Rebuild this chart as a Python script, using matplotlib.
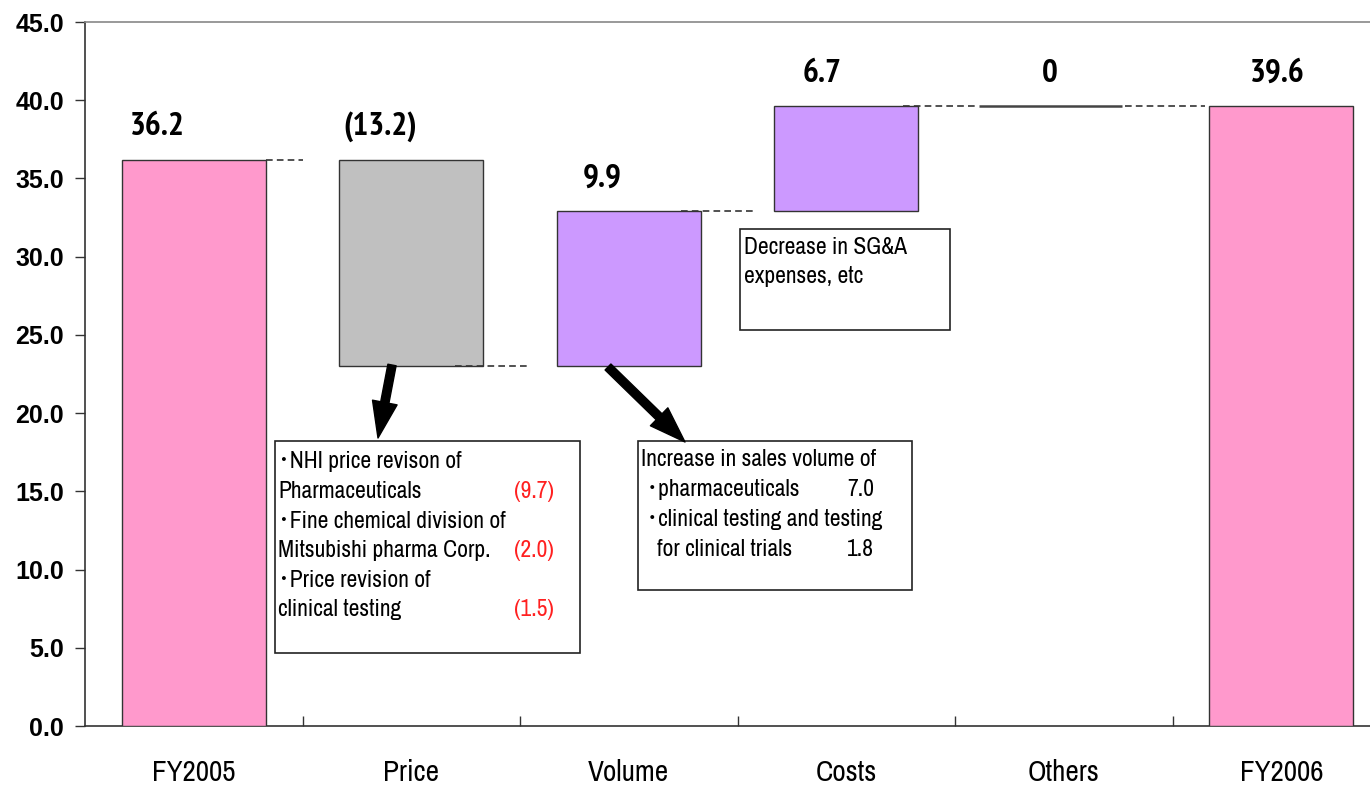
import matplotlib
matplotlib.use("Agg")
from matplotlib import pyplot as plt
from matplotlib import font_manager as fm
from matplotlib.ticker import FixedLocator
import numpy as np

# data
categories = ['FY2005', 'Price', 'Volume', 'Costs', 'Others', 'FY2006']
start_value = 36.2
changes = [-13.2, 9.9, 6.7, 0.0]
end_value = 39.6
y_ticks = [0, 5, 10, 15, 20, 25, 30, 35, 40, 45]

price_lines = ['\uff65NHI price revison of', 'Pharmaceuticals',
               '\uff65Fine chemical division of', 'Mitsubishi pharma Corp.',
               '\uff65Price revision of', 'clinical testing']
price_values = ['', '(9.7)', '', '(2.0)', '', '(1.5)']
volume_lines = ['Increase in sales volume of', ' \uff65pharmaceuticals',
                ' \uff65clinical testing and testing', '   for clinical trials']
volume_values = ['', '7.0', '', '1.8']
costs_lines = ['Decrease in SG&A', 'expenses, etc']

PINK, GRAY, PURPLE = '#FF99CC', '#C0C0C0', '#CC99FF'
EDGE = '#333333'
CANDIDATES = ['Liberation Sans Narrow', 'Arial Narrow', 'Archivo Narrow',
              'PT Sans Narrow', 'Roboto Condensed', 'Fira Sans Condensed',
              'IBM Plex Sans Condensed', 'Encode Sans Condensed']


def _is_bold(w):
    if isinstance(w, str):
        return w in ('bold', 'heavy', 'extra bold', 'black', 'demibold', 'semibold')
    return w >= 600


def pick_font(candidates, default, bold=False):
    entries = fm.fontManager.ttflist
    for name in candidates:
        faces = [f for f in entries if f.name == name]
        if not faces:
            continue
        if bold and not any(_is_bold(f.weight) for f in faces):
            continue
        return name
    return default


narrow = pick_font(CANDIDATES, 'Liberation Sans')
narrow_bold = pick_font(CANDIDATES, 'Liberation Sans', bold=True)
NARROW = [narrow, 'Liberation Sans', 'Noto Sans CJK JP']


def fmt(v):
    if v < 0:
        return '({:.1f})'.format(-v)
    if v == 0:
        return '0'
    return '{:.1f}'.format(v)


fig = plt.figure(figsize=(13.7, 7.88), dpi=100)
ax = fig.add_axes([85 / 1370, 62 / 788, 1305 / 1370, 704 / 788])

# waterfall geometry
levels = np.concatenate([[start_value], start_value + np.cumsum(changes)])
bottoms = [0]
heights = [start_value]
colors = [PINK]
for i, c in enumerate(changes):
    bottoms.append(min(levels[i], levels[i + 1]))
    heights.append(abs(c))
    colors.append(GRAY if c < 0 else PURPLE)
bottoms.append(0)
heights.append(end_value)
colors.append(PINK)

x = np.arange(len(categories))
width = 0.66
for xi, b, h, col in zip(x, bottoms, heights, colors):
    if h == 0:
        ax.hlines(b, xi - width / 2 - 0.06, xi + width / 2 - 0.06,
                  color='#444444', lw=1.8, zorder=3)
    else:
        ax.bar(xi, h, bottom=b, width=width, color=col, edgecolor=EDGE,
               linewidth=1.0, zorder=3)

# dashed connectors
dash_from = [0.33, 1.2, 2.24, 3.26, 4.28]
dash_to = [0.5, 1.54, 2.57, 3.6, 4.65]
for i in range(len(levels)):
    ax.plot([dash_from[i], dash_to[i]], [levels[i], levels[i]],
            color='#333333', lw=1.2, ls=(0, (4, 2.5)), zorder=4)

# value labels
label_vals = [start_value] + changes + [end_value]
tops = [start_value] + [max(levels[i], levels[i + 1]) for i in range(len(changes))] + [end_value]
label_dx = [-0.166, -0.143, -0.124, -0.11, -0.064, -0.018]
for xi, v, t, dx in zip(x, label_vals, tops, label_dx):
    ax.text(xi + dx, t + 2.1, fmt(v), ha='center', va='center',
            fontsize=24, fontweight='bold', family=[narrow_bold, 'Liberation Sans'])


# annotation boxes (pixel layout of the reference -> data coords)
def px(p):
    return (p - 85) / 217.5 - 0.5


def py(p):
    return (726 - p) / (704 / 45)


def draw_box(x0, y0, x1, y1):
    ax.add_patch(plt.Rectangle((px(x0), py(y1)), px(x1) - px(x0), py(y0) - py(y1),
                               fill=True, facecolor='white', edgecolor='#222222',
                               lw=1.2, zorder=5))


draw_box(275, 441, 580, 653)
for k, (line, v) in enumerate(zip(price_lines, price_values)):
    yk = py(462 + 29.6 * k)
    ax.text(px(278), yk, line, ha='left', va='center',
            fontsize=17, family=NARROW, zorder=6)
    if v:
        ax.text(px(554), yk, v, ha='right', va='center',
                fontsize=17, family=NARROW, color='#FF2020', zorder=6)

draw_box(638, 441, 912, 590)
for k, (line, v) in enumerate(zip(volume_lines, volume_values)):
    yk = py(459 + 30 * k)
    ax.text(px(641), yk, line, ha='left', va='center',
            fontsize=17, family=NARROW, zorder=6)
    if v:
        ax.text(px(874), yk, v, ha='right', va='center',
                fontsize=17, family=NARROW, zorder=6)

draw_box(740, 229, 950, 330)
for k, line in enumerate(costs_lines):
    ax.text(px(744), py(247 + 30 * k), line, ha='left', va='center',
            fontsize=17, family=NARROW, zorder=6)

# arrows
arrow = dict(arrowstyle='simple,head_length=1.3,head_width=0.9,tail_width=0.3',
             mutation_scale=20, color='black', shrinkA=0, shrinkB=0)
ax.annotate('', xy=(px(378), py(438)), xytext=(px(392), py(365)),
            arrowprops=arrow, zorder=7)
ax.annotate('', xy=(px(685), py(442)), xytext=(px(608), py(367)),
            arrowprops=arrow, zorder=7)

# axes
ax.set_xlim(-0.5, len(categories) - 0.5)
ax.set_ylim(0, 45)
ax.set_yticks(y_ticks)
ax.set_yticklabels(['{:.1f}'.format(t) for t in y_ticks], fontsize=18,
                   fontweight='bold', family='Liberation Sans')
ax.set_xticks(x)
ax.set_xticklabels(categories, fontsize=21, family=NARROW)
ax.xaxis.set_minor_locator(FixedLocator(np.arange(0.5, len(categories) - 0.5, 1)))
ax.tick_params(axis='x', which='major', length=0, pad=24)
ax.tick_params(axis='x', which='minor', direction='in', length=7, width=1, color='#333333')
ax.tick_params(axis='y', direction='out', length=7, width=1, color='#333333', pad=8)
ax.spines['right'].set_visible(False)
ax.spines['left'].set_color('#333333')
ax.spines['bottom'].set_color('#333333')
ax.spines['top'].set_color('#888888')
for s in ax.spines.values():
    s.set_linewidth(1.2)

fig.savefig('out.png', dpi=100)
